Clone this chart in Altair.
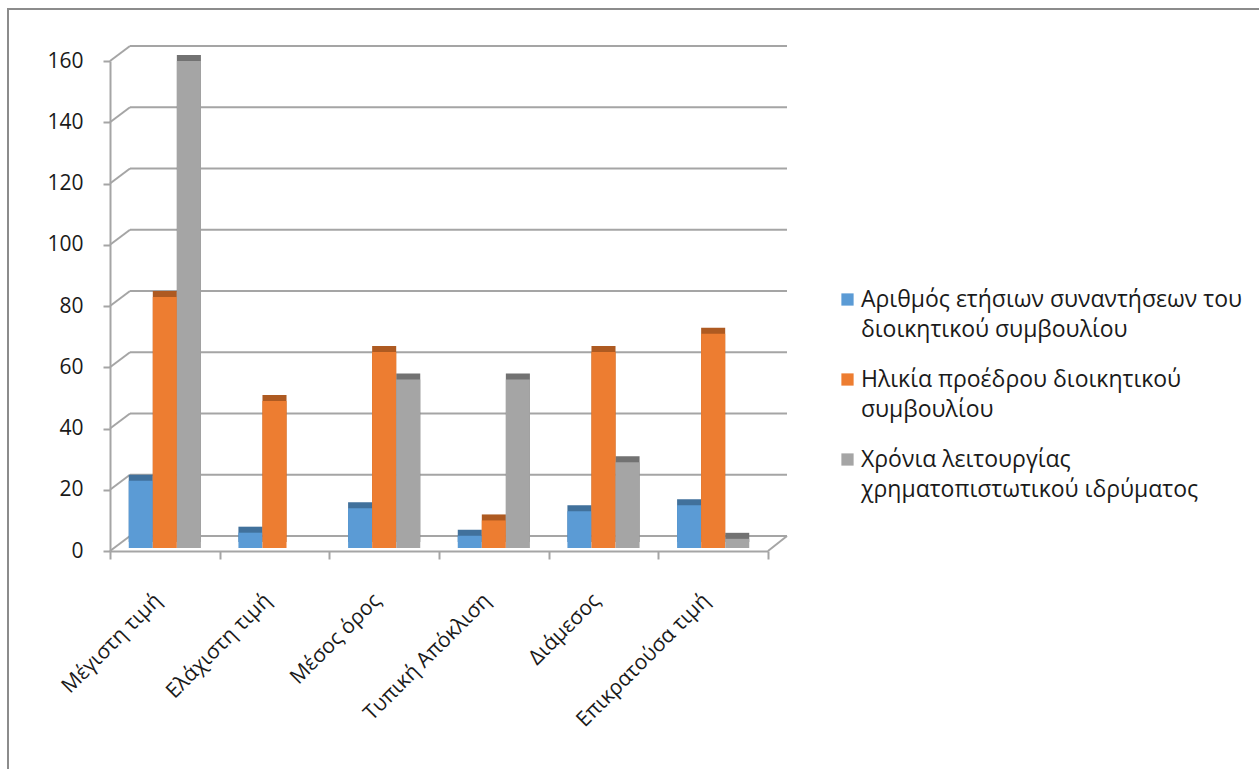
import altair as alt
import pandas as pd

# Descriptive statistics per variable
categories = ["Μέγιστη τιμή", "Ελάχιστη τιμή", "Μέσος όρος",
              "Τυπική Απόκλιση", "Διάμεσος", "Επικρατούσα τιμή"]

series_lines = [
    ["Αριθμός ετήσιων συναντήσεων του", "διοικητικού συμβουλίου"],
    ["Ηλικία προέδρου διοικητικού", "συμβουλίου"],
    ["Χρόνια λειτουργίας", "χρηματοπιστωτικού ιδρύματος"],
]
series = [" ".join(lines) for lines in series_lines]

meetings = [22, 5, 13, 4, 12, 14]
chair_age = [82, 48, 64, 9, 64, 70]
years_active = [159, 0, 55, 55, 28, 3]

y_ticks = [0, 20, 40, 60, 80, 100, 120, 140, 160]

front_colors = ["#5B9BD5", "#ED7D31", "#A5A5A5"]
side_colors = ["#41719C", "#AE5A21", "#727272"]

rows = []
for vals, name, dark in zip([meetings, chair_age, years_active], series, side_colors):
    for cat, v in zip(categories, vals):
        rows.append({"category": cat, "series": name, "value": v, "dark": dark})
df = pd.DataFrame(rows)
ticks_df = pd.DataFrame({"tick": y_ticks})
floor_df = pd.DataFrame({"tick": [0]})

W, H = 658, 490
DEPTH_X, DEPTH_Y = 20, 15
GRID = "#A5A5A5"
FONT = "Open Sans"
TEXT = "#1a1a1a"

y_scale = alt.Scale(domain=[0, 160], nice=False)

# legend labels broken over two lines
label_expr = ""
for name, lines in zip(series, series_lines):
    label_expr += "datum.label == '%s' ? ['%s', '%s'] : " % (name, lines[0], lines[1])
label_expr += "datum.label"

# outer chart border
frame = alt.Chart(floor_df).mark_rect(
    fill=None, stroke="#8C8C8C", strokeWidth=2
).encode(
    x=alt.value(-102), x2=alt.value(1400),
    y=alt.value(-52), y2=alt.value(1000),
)

# back-wall gridlines
grid = alt.Chart(ticks_df).mark_rule(
    color=GRID, strokeWidth=2, yOffset=-DEPTH_Y, y2Offset=-DEPTH_Y
).encode(
    x=alt.value(DEPTH_X), x2=alt.value(W + 19),
    y=alt.Y("tick:Q", scale=y_scale, title=None),
    y2=alt.Y2("tick:Q"),
)

# side-wall connectors from the front axis to the back wall
side = alt.Chart(ticks_df).mark_rule(
    color=GRID, strokeWidth=2, y2Offset=-DEPTH_Y
).encode(
    x=alt.value(0), x2=alt.value(DEPTH_X),
    y=alt.Y("tick:Q", scale=y_scale, title=None),
    y2=alt.Y2("tick:Q"),
)

# right edge of the floor
floor_edge = alt.Chart(floor_df).mark_rule(
    color=GRID, strokeWidth=2, y2Offset=-DEPTH_Y
).encode(
    x=alt.value(W), x2=alt.value(W + 19),
    y=alt.Y("tick:Q", scale=y_scale, title=None),
    y2=alt.Y2("tick:Q"),
)

x_enc = alt.X(
    "category:N", sort=categories, title=None,
    scale=alt.Scale(paddingInner=0, paddingOuter=0),
    axis=alt.Axis(
        labelAngle=-45, labelAlign="right", labelBaseline="middle",
        labelOffset=-7, labelPadding=38, tickBand="extent",
        tickSize=8, tickWidth=2, tickColor=GRID,
        domainColor=GRID, domainWidth=2,
        labelFont=FONT, labelFontSize=21, labelColor=TEXT, labelLimit=300,
    ),
)
xoff_enc = alt.XOffset("series:N", sort=series,
                       scale=alt.Scale(paddingInner=0, paddingOuter=0.78))
y_enc = alt.Y(
    "value:Q", scale=y_scale, title=None,
    axis=alt.Axis(
        values=y_ticks, grid=False, tickSize=7, tickWidth=2, tickColor=GRID,
        domainColor=GRID, domainWidth=2, labelPadding=20,
        labelFont=FONT, labelFontSize=21, labelColor=TEXT,
    ),
)

base = alt.Chart(df).encode(x=x_enc, xOffset=xoff_enc, y=y_enc)

# darker extrusion (top and right side of each column)
back = base.mark_bar(xOffset=12, yOffset=-9).encode(
    fill=alt.Fill("dark:N", scale=None)
)

front = base.mark_bar(xOffset=5, yOffset=-3).encode(
    color=alt.Color(
        "series:N", sort=series, title=None,
        scale=alt.Scale(domain=series, range=front_colors),
        legend=alt.Legend(
            orient="none", legendX=726, legendY=227,
            symbolType="square", symbolSize=150, symbolStrokeWidth=0,
            labelFont=FONT, labelFontSize=23, labelColor=TEXT,
            labelExpr=label_expr, labelLimit=500, rowPadding=26,
            labelOffset=2,
        ),
    )
)

chart = alt.layer(frame, grid, side, floor_edge, back, front).properties(
    width=W, height=H,
    autosize=alt.AutoSizeParams(type="none"),
    padding={"left": 110, "top": 61, "right": 491, "bottom": 218},
).configure(
    view=alt.ViewConfig(stroke=None),
    style={"guide-label": {"lineHeight": 30}},
)

chart.save("out.html", embed_options={"renderer": "svg", "actions": False})
